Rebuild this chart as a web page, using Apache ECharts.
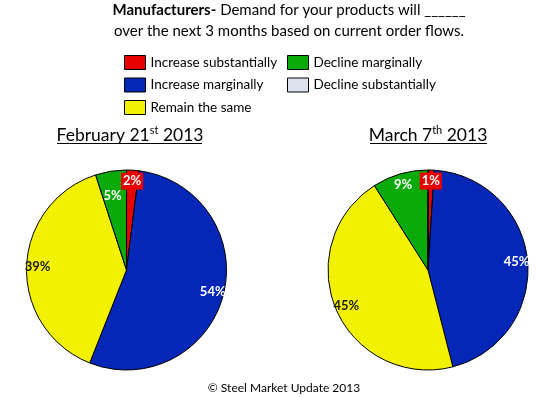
<!DOCTYPE html>
<html><head><meta charset="utf-8">
<script src="https://cdn.jsdelivr.net/npm/echarts@6/dist/echarts.min.js"></script>
<style>html,body{margin:0;padding:0;background:#fff}#c{width:557px;height:397px}</style>
</head><body><div id="c"></div>
<script>
const categories = ['Increase substantially','Increase marginally','Remain the same','Decline marginally','Decline substantially'];
const febValues = [2, 54, 39, 5, 0];
const marValues = [1, 45, 45, 9, 0];
const febTitle = ['February 21', 'st', ' 2013'];
const marTitle = ['March 7', 'th', ' 2013'];

const colors = ['#E60000', '#0527B8', '#F2F200', '#0AAA0A', '#DCE3EE'];
const labelColors = ['#fff', '#fff', '#1a1a1a', '#fff', '#fff'];
const FONT = 'Lato';

function mainData(vals) {
  return vals.map((v, i) => ({
    name: categories[i], value: v,
    itemStyle: { color: colors[i], borderColor: '#000', borderWidth: 1 }
  }));
}
function labelData(vals, deeper) {
  return vals.map((v, i) => ({
    name: categories[i], value: v,
    itemStyle: { color: 'rgba(0,0,0,0)', borderWidth: 0 },
    label: {
      show: v > 0, position: 'inside', color: labelColors[i],
      formatter: deeper[i] ? '\n\n{c}%' : '{c}%',
      fontFamily: FONT, fontWeight: 'bold', fontSize: 13, lineHeight: 14,
      backgroundColor: i === 0 ? colors[0] : 'transparent',
      padding: i === 0 ? [2, 2, 1, 2] : 0
    }
  }));
}
function pieSeries(vals, cx, deeper) {
  return [
    { type: 'pie', center: [cx, 270], radius: [0, 100], silent: true,
      label: { show: false }, labelLine: { show: false },
      data: mainData(vals) },
    { type: 'pie', center: [cx, 270], radius: [72, 100], silent: true,
      avoidLabelOverlap: false, labelLayout: { hideOverlap: false },
      labelLine: { show: false }, data: labelData(vals, deeper) }
  ];
}
function subTitle(parts, x) {
  return { left: x, top: 125, textAlign: 'center', padding: 0,
    text: '{a|' + parts[0] + '}{s|' + parts[1] + '}{a|' + parts[2] + '}',
    textStyle: { rich: {
      a: { fontFamily: FONT, fontSize: 17.5, fontWeight: 'normal', color: '#000', lineHeight: 20 },
      s: { fontFamily: FONT, fontSize: 11, fontWeight: 'normal', color: '#000', lineHeight: 11, verticalAlign: 'top' } } } };
}

const chart = echarts.init(document.getElementById('c'), null, { renderer: 'canvas' });
const legendCommon = {
  orient: 'vertical', top: 55, padding: 0, itemWidth: 21, itemHeight: 14, itemGap: 7.5,
  icon: 'rect', selectedMode: false,
  textStyle: { fontFamily: FONT, fontSize: 13.5, color: '#000', lineHeight: 14 },
  itemStyle: { borderColor: '#000', borderWidth: 1 }
};
chart.setOption({
  animation: false,
  title: [
    { left: 289, top: 0, textAlign: 'center', padding: 0,
      text: '{b|Manufacturers-} Demand for your products will ______\nover the next 3 months based on current order flows.',
      textStyle: { fontFamily: FONT, fontSize: 15, fontWeight: 'normal', color: '#000', lineHeight: 21,
        rich: { b: { fontFamily: FONT, fontSize: 15, fontWeight: 'bold', color: '#000', lineHeight: 21 } } } },
    subTitle(febTitle, 130),
    subTitle(marTitle, 428),
    { left: 284, top: 382, textAlign: 'center', padding: 0, text: '© Steel Market Update 2013',
      textStyle: { fontFamily: FONT, fontSize: 12, fontWeight: 'normal', color: '#000' } }
  ],
  legend: [
    Object.assign({ left: 124, data: categories.slice(0, 3) }, legendCommon),
    Object.assign({ left: 287, data: categories.slice(3) }, legendCommon)
  ],
  graphic: [
    { type: 'line', shape: { x1: 57, y1: 143.5, x2: 202, y2: 143.5 }, style: { stroke: '#000', lineWidth: 1 } },
    { type: 'line', shape: { x1: 370, y1: 143.5, x2: 487, y2: 143.5 }, style: { stroke: '#000', lineWidth: 1 } }
  ],
  series: pieSeries(febValues, 126.5, { 3: true }).concat(pieSeries(marValues, 428, {}))
});
</script></body></html>
